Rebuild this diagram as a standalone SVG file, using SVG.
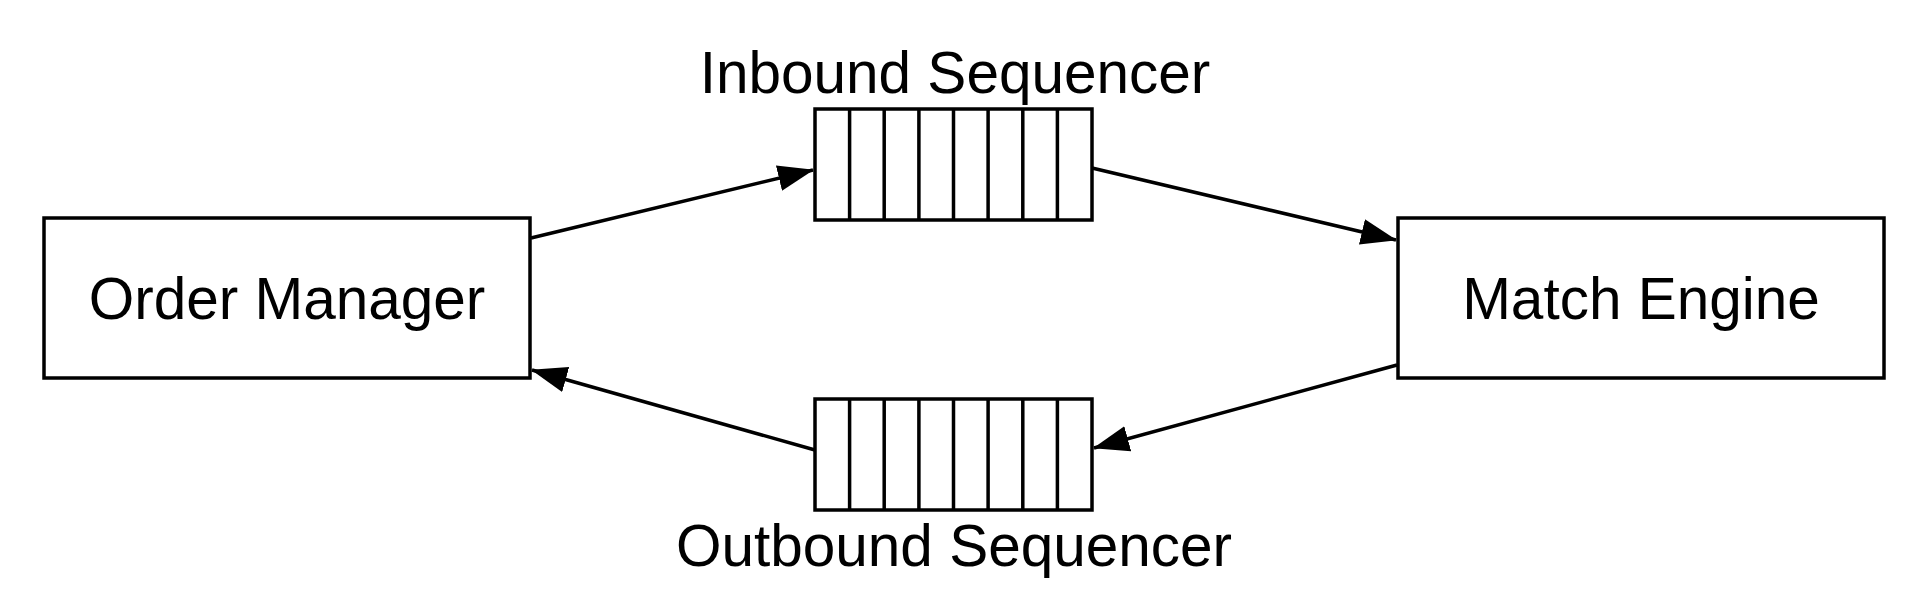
<svg xmlns="http://www.w3.org/2000/svg" width="1920" height="608" viewBox="0 0 1920 608">
<defs>
<style>
.box{fill:#fff;stroke:#000;stroke-width:3.5}
.cell{fill:none;stroke:#000;stroke-width:3.5}
.lbl{font-family:"Liberation Sans",Arial,Helvetica,sans-serif;font-size:58.5px;fill:#000;text-anchor:middle}
.edge{stroke:#000;stroke-width:3.5;fill:none;marker-end:url(#arr)}
</style>
<marker id="arr" markerUnits="userSpaceOnUse" markerWidth="36" markerHeight="28" refX="35" refY="14" orient="auto">
<path d="M0,1 L36,14 L0,27 Z" fill="#000"/>
</marker>
</defs>
<rect width="1920" height="608" fill="#fff"/>
<g id="order-manager">
<rect class="box" x="44" y="218" width="486" height="160"/>
<text class="lbl" x="287" y="319">Order Manager</text>
</g>
<g id="match-engine">
<rect class="box" x="1398" y="218" width="486" height="160"/>
<text class="lbl" x="1641" y="319">Match Engine</text>
</g>
<g id="inbound-sequencer">
<rect class="box" x="815" y="109" width="277" height="111"/>
<path class="cell" d="M849.6,109V220M884.2,109V220M918.9,109V220M953.5,109V220M988.1,109V220M1022.8,109V220M1057.4,109V220"/>
<text class="lbl" x="955" y="93">Inbound Sequencer</text>
</g>
<g id="outbound-sequencer">
<rect class="box" x="815" y="399" width="277" height="111"/>
<path class="cell" d="M849.6,399V510M884.2,399V510M918.9,399V510M953.5,399V510M988.1,399V510M1022.8,399V510M1057.4,399V510"/>
<text class="lbl" x="954" y="566">Outbound Sequencer</text>
</g>
<g id="connectors">
<line class="edge" x1="531" y1="238" x2="813" y2="170"/>
<line class="edge" x1="1092" y1="168" x2="1396" y2="240"/>
<line class="edge" x1="1397" y1="365" x2="1094" y2="448"/>
<line class="edge" x1="815" y1="450" x2="532" y2="370"/>
</g>
</svg>
